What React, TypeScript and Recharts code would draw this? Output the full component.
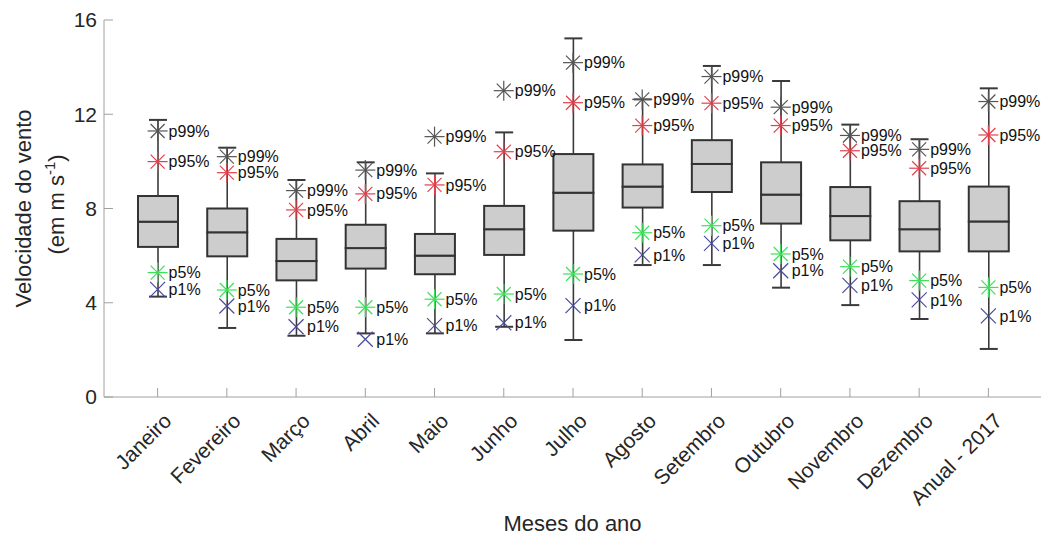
import React from "react";
import { ComposedChart, Bar, Line, XAxis, YAxis, Label } from "recharts";

const months = [
  "Janeiro", "Fevereiro", "Março", "Abril", "Maio", "Junho", "Julho",
  "Agosto", "Setembro", "Outubro", "Novembro", "Dezembro", "Anual - 2017",
];
const whiskerLow = [4.26, 2.93, 2.6, 2.7, 2.7, 2.98, 2.42, 5.6, 5.6, 4.64, 3.9, 3.31, 2.04];
const q1 = [6.37, 5.97, 4.95, 5.45, 5.21, 6.03, 7.06, 8.04, 8.7, 7.36, 6.65, 6.18, 6.18];
const median = [7.44, 6.99, 5.77, 6.32, 6.0, 7.12, 8.67, 8.93, 9.89, 8.59, 7.68, 7.12, 7.45];
const q3 = [8.53, 8.0, 6.71, 7.31, 6.92, 8.11, 10.31, 9.87, 10.9, 9.96, 8.91, 8.31, 8.93];
const whiskerHigh = [11.76, 10.58, 9.21, 9.96, 9.49, 11.23, 15.22, 12.63, 14.05, 13.41, 11.56, 10.94, 13.1];
const p1 = [4.57, 3.86, 2.98, 2.45, 3.03, 3.15, 3.88, 6.03, 6.52, 5.36, 4.74, 4.12, 3.44];
const p5 = [5.28, 4.54, 3.81, 3.81, 4.15, 4.37, 5.22, 6.97, 7.27, 6.07, 5.53, 4.94, 4.65];
const p95 = [9.99, 9.52, 7.94, 8.62, 9.0, 10.41, 12.49, 11.52, 12.47, 11.52, 10.45, 9.71, 11.12];
const p99 = [11.29, 10.2, 8.76, 9.63, 11.05, 13.0, 14.19, 12.63, 13.6, 12.3, 11.1, 10.51, 12.54];
const yTicks = [0, 4, 8, 12, 16];

const FONT = "'Liberation Sans', Arial, sans-serif";
const AXIS = "#a0a0a0";
const TEXT = "#262626";

const data = months.map((name, i) => ({
  name,
  base: whiskerLow[i],
  lowW: q1[i] - whiskerLow[i],
  boxLow: median[i] - q1[i],
  boxHigh: q3[i] - median[i],
  highW: whiskerHigh[i] - q3[i],
  p1: p1[i],
  p5: p5[i],
  p95: p95[i],
  p99: p99[i],
}));

const WhiskerLow = (props: any) => {
  const { x, y, width, height } = props;
  const cx = x + width / 2;
  return (
    <g stroke="#3a3a3a" strokeWidth={1.6}>
      <line x1={cx} x2={cx} y1={y} y2={y + height} />
      <line x1={cx - 9} x2={cx + 9} y1={y + height} y2={y + height} strokeWidth={2} />
    </g>
  );
};

const WhiskerHigh = (props: any) => {
  const { x, y, width, height } = props;
  const cx = x + width / 2;
  return (
    <g stroke="#3a3a3a" strokeWidth={1.6}>
      <line x1={cx} x2={cx} y1={y} y2={y + height} />
      <line x1={cx - 9} x2={cx + 9} y1={y} y2={y} strokeWidth={2} />
    </g>
  );
};

const BoxPart = (props: any) => {
  const { x, y, width, height } = props;
  return <rect x={x} y={y} width={width} height={height} fill="#cdcdcd" stroke="#333" strokeWidth={2} />;
};

const makeDot = (color: string, kind: "star" | "x", text: string) => (props: any) => {
  const { cx, cy, index } = props;
  if (cx == null || cy == null) return <g key={index} />;
  return (
    <g key={index}>
      {kind === "star" ? (
        <g stroke={color} strokeWidth={1.2}>
          <line x1={cx - 10} x2={cx + 10} y1={cy} y2={cy} />
          <line x1={cx} x2={cx} y1={cy - 10} y2={cy + 10} />
          <line x1={cx - 7} x2={cx + 7} y1={cy - 7} y2={cy + 7} />
          <line x1={cx - 7} x2={cx + 7} y1={cy + 7} y2={cy - 7} />
        </g>
      ) : (
        <g stroke={color} strokeWidth={1.2}>
          <line x1={cx - 7.5} x2={cx + 7.5} y1={cy - 7.5} y2={cy + 7.5} />
          <line x1={cx - 7.5} x2={cx + 7.5} y1={cy + 7.5} y2={cy - 7.5} />
        </g>
      )}
      <text x={cx + 11} y={cy} dy="0.35em" fontSize={16} fontFamily={FONT} fill="#111">
        {text}
      </text>
    </g>
  );
};

const XTick = (props: any) => {
  const { x, y, payload } = props;
  const ax = x + 10;
  const ay = y + 20;
  return (
    <g>
      <line x1={x} x2={x} y1={y} y2={y - 9} stroke={AXIS} />
      <text
        x={ax}
        y={ay}
        dy="0.35em"
        textAnchor="end"
        transform={`rotate(-45 ${ax} ${ay})`}
        fontSize={21}
        fontFamily={FONT}
        fill={TEXT}
      >
        {payload.value}
      </text>
    </g>
  );
};

const YTick = (props: any) => {
  const { x, y, payload } = props;
  return (
    <g>
      <line x1={x} x2={x + 9} y1={y} y2={y} stroke={AXIS} />
      <text x={x - 7} y={y} dy="0.35em" textAnchor="end" fontSize={21} fontFamily={FONT} fill={TEXT}>
        {payload.value}
      </text>
    </g>
  );
};

const YTitle = (props: any) => {
  const { viewBox } = props;
  const cy = viewBox.y + viewBox.height / 2;
  const x1 = viewBox.x + 31;
  const x2 = viewBox.x + 64;
  return (
    <g fontFamily={FONT} fontSize={22} fill={TEXT}>
      <text x={x1} y={cy} textAnchor="middle" transform={`rotate(-90 ${x1} ${cy})`}>
        Velocidade do vento
      </text>
      <text x={x2} y={cy - 4} textAnchor="middle" transform={`rotate(-90 ${x2} ${cy - 4})`}>
        (em m s
        <tspan dy={-9} fontSize={15}>-1</tspan>
        <tspan dy={9}>)</tspan>
      </text>
    </g>
  );
};

const XTitle = (props: any) => {
  const { viewBox } = props;
  const cx = viewBox.x + viewBox.width / 2;
  return (
    <text x={cx} y={viewBox.y + 134} textAnchor="middle" fontFamily={FONT} fontSize={22} fill={TEXT}>
      Meses do ano
    </text>
  );
};

export default function App() {
  return (
    <div style={{ position: "absolute", left: 0, top: 0, width: 1041, height: 536, background: "#fff" }}>
      <ComposedChart width={1041} height={536} data={data} margin={{ top: 20, right: 0, bottom: 0, left: 0 }}>
        <XAxis
          dataKey="name"
          type="category"
          interval={0}
          padding={{ left: 19, right: 18 }}
          height={139}
          axisLine={{ stroke: AXIS }}
          tickLine={false}
          tickSize={0}
          tickMargin={0}
          tick={<XTick />}
        >
          <Label content={<XTitle />} />
        </XAxis>
        <YAxis
          type="number"
          domain={[0, 16]}
          ticks={yTicks}
          width={104}
          axisLine={{ stroke: AXIS }}
          tickLine={false}
          tickSize={0}
          tickMargin={0}
          tick={<YTick />}
        >
          <Label content={<YTitle />} />
        </YAxis>
        <Bar dataKey="base" stackId="b" fill="transparent" barSize={40} isAnimationActive={false} />
        <Bar dataKey="lowW" stackId="b" shape={<WhiskerLow />} barSize={40} isAnimationActive={false} />
        <Bar dataKey="boxLow" stackId="b" shape={<BoxPart />} barSize={40} isAnimationActive={false} />
        <Bar dataKey="boxHigh" stackId="b" shape={<BoxPart />} barSize={40} isAnimationActive={false} />
        <Bar dataKey="highW" stackId="b" shape={<WhiskerHigh />} barSize={40} isAnimationActive={false} />
        <Line dataKey="p99" stroke="none" dot={makeDot("#555555", "star", "p99%")} activeDot={false} isAnimationActive={false} />
        <Line dataKey="p95" stroke="none" dot={makeDot("#e0404c", "star", "p95%")} activeDot={false} isAnimationActive={false} />
        <Line dataKey="p5" stroke="none" dot={makeDot("#3ee05a", "star", "p5%")} activeDot={false} isAnimationActive={false} />
        <Line dataKey="p1" stroke="none" dot={makeDot("#4a4a9c", "x", "p1%")} activeDot={false} isAnimationActive={false} />
      </ComposedChart>
    </div>
  );
}
